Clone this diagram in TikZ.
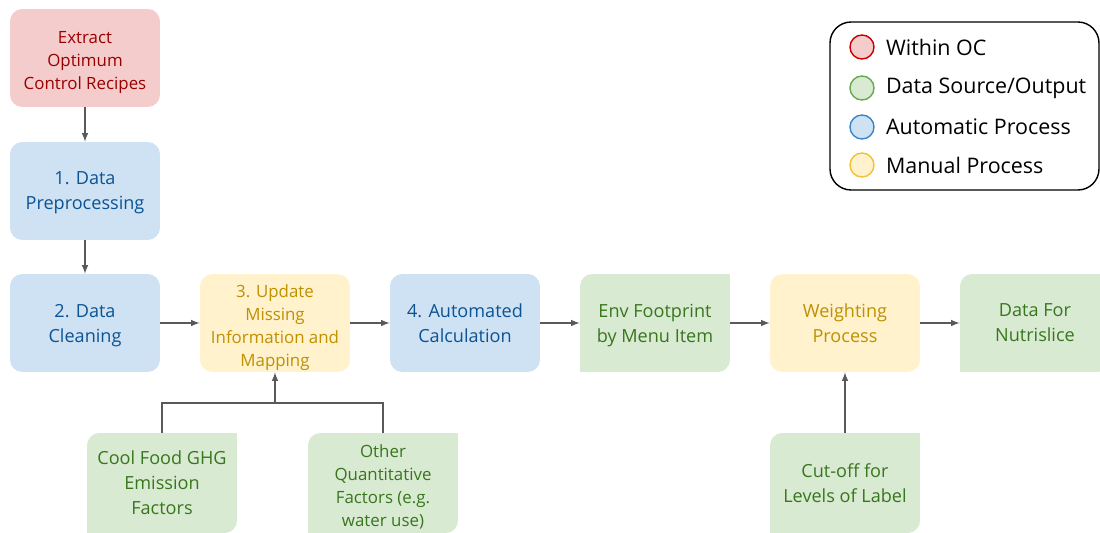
\documentclass[tikz,border=0pt]{standalone}
\usepackage{fontspec}
\setmainfont{Open Sans}
\usetikzlibrary{arrows,shapes,calc,positioning}
\definecolor{redfill}{HTML}{F4CCCC}
\definecolor{redtext}{HTML}{990000}
\definecolor{redline}{HTML}{CC0000}
\definecolor{bluefill}{HTML}{CFE2F3}
\definecolor{bluetext}{HTML}{0B5394}
\definecolor{blueline}{HTML}{3D85C6}
\definecolor{greenfill}{HTML}{D9EAD3}
\definecolor{greentext}{HTML}{38761D}
\definecolor{greenline}{HTML}{6AA84F}
\definecolor{yellowfill}{HTML}{FFF2CC}
\definecolor{yellowtext}{HTML}{BF9000}
\definecolor{yellowline}{HTML}{F1C232}
\definecolor{arrowgray}{HTML}{595959}
\tikzset{stepbox/.style={
            draw=none,
            rounded corners=7pt,
            inner sep=0pt,
            minimum width=3cm,
            minimum height=1.96cm,
            align=center,
            text depth=0pt,
            font=\fontsize{10.3}{14.2}\selectfont
        },
        smalltext/.style={
            inner sep=0pt,
            align=center,
            text depth=0pt,
            font=\fontsize{9.6}{13}\selectfont,
            yshift=-1.5pt
        },
        ocbox/.style={
            stepbox,
            fill=redfill,
            text=redtext
        },
        autobox/.style={
            stepbox,
            fill=bluefill,
            text=bluetext
        },
        manualbox/.style={
            stepbox,
            fill=yellowfill,
            text=yellowtext
        },
        databox/.style={
            stepbox,
            rounded corners=0pt,
            fill=white,
            text=greentext,
            path picture={
                \fill[greenfill] (path picture bounding box.south west)
                    -- ([yshift=-7pt]path picture bounding box.north west)
                    arc[start angle=180,end angle=90,radius=7pt]
                    -- (path picture bounding box.north east)
                    -- ([yshift=7pt]path picture bounding box.south east)
                    arc[start angle=0,end angle=-90,radius=7pt]
                    -- cycle;
            }
        },
        legdot/.style={
            draw,
            circle,
            line width=0.8pt,
            inner sep=0pt,
            minimum size=0.48cm
        },
        legtext/.style={
            right=0.22cm of #1,
            inner sep=0pt,
            font=\fontsize{12.2}{14}\selectfont
        },
        conn/.style={
            draw=arrowgray,
            line width=0.7pt,
            -latex
        }
    }
\begin{document}
\begin{tikzpicture}[x=0.02cm,y=0.02cm]
        \useasboundingbox (0,0) rectangle (1100,532);
        % top to bottom on the left
        \node[ocbox] at (85,474) (extract) {};
        \node[smalltext,text=redtext] at (extract) (extracttxt) {Extract\\Optimum\\Control Recipes};
        \node[autobox] at (85,341) (prep) {1. Data\\Preprocessing};
        \node[autobox] at (85,209) (clean) {2. Data\\Cleaning};
        % main row
        \node[manualbox] at (275,209) (update) {};
        \node[smalltext,text=yellowtext] at (update) (updatetxt) {3. Update\\Missing\\Information and\\Mapping};
        \node[autobox] at (465,209) (auto) {4. Automated\\Calculation};
        \node[databox] at (655,209) (env) {Env Footprint\\by Menu Item};
        \node[manualbox] at (845,209) (weight) {Weighting\\Process};
        \node[databox] at (1035,209) (nutri) {Data For\\Nutrislice};
        % data sources below
        \node[databox,minimum height=2cm] at (162,49) (cool) {Cool Food GHG\\Emission\\Factors};
        \node[databox,minimum height=2cm] at (383,49) (other) {};
        \node[smalltext,text=greentext,yshift=0pt] at (other) (othertxt) {Other\\Quantitative\\Factors (e.g.\\water use)};
        \node[databox,minimum height=2cm] at (845,49) (cutoff) {Cut-off for\\Levels of Label};
        \coordinate (join) at (275,129);
        \draw[conn] (extract) -- (prep);
        \draw[conn] (prep) -- (clean);
        \draw[conn] (clean) -- (update);
        \draw[conn] (update) -- (auto);
        \draw[conn] (auto) -- (env);
        \draw[conn] (env) -- (weight);
        \draw[conn] (weight) -- (nutri);
        \draw[conn,-] (cool.north) |- (join) -| (other.north);
        \draw[conn] (join) -- (update.south);
        \draw[conn] (cutoff) -- (weight);
        % legend
        \draw[line width=0.8pt,rounded corners=12pt] (830,342) rectangle (1099,510);
        \node[legdot,draw=redline,fill=redfill] at (862,485) (leg1) {};
        \node[legdot,draw=greenline,fill=greenfill] at (862,444) (leg2) {};
        \node[legdot,draw=blueline,fill=bluefill] at (862,405) (leg3) {};
        \node[legdot,draw=yellowline,fill=yellowfill] at (862,367) (leg4) {};
        \node[legtext=leg1] (leg1txt) {Within OC};
        \node[legtext=leg2] (leg2txt) {Data Source/Output};
        \node[legtext=leg3] (leg3txt) {Automatic Process};
        \node[legtext=leg4] (leg4txt) {Manual Process};
    \end{tikzpicture}
\end{document}
